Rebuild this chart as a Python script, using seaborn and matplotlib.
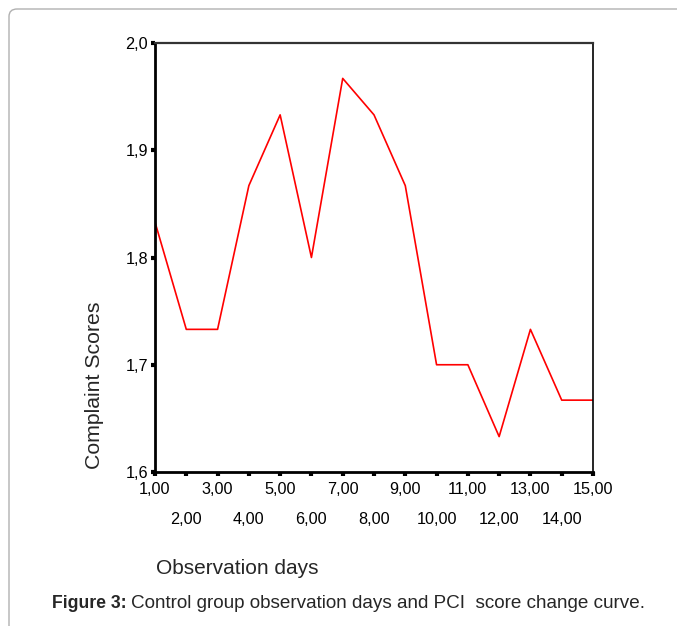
import matplotlib
matplotlib.use('Agg')
import matplotlib.pyplot as plt
import seaborn as sns
import pandas as pd
from matplotlib.patches import FancyBboxPatch

days = [1, 2, 3, 4, 5, 6, 7, 8, 9, 10, 11, 12, 13, 14, 15]
scores = [1.833, 1.733, 1.733, 1.867, 1.933, 1.800, 1.967, 1.933,
          1.867, 1.700, 1.700, 1.633, 1.733, 1.667, 1.667]
y_ticks = [1.6, 1.7, 1.8, 1.9, 2.0]
y_labels = ['1,6', '1,7', '1,8', '1,9', '2,0']
odd_days = days[0::2]
even_days = days[1::2]

df = pd.DataFrame({'day': days, 'score': scores})

sns.set_style('white')
plt.rcParams['font.family'] = ['Liberation Sans', 'DejaVu Sans']

W, H = 677, 626
fig = plt.figure(figsize=(W / 100, H / 100), dpi=100)

# light page frame with rounded corner
frame = FancyBboxPatch((9 / W, -20 / H), 700 / W, 637 / H,
                       boxstyle='round,pad=0,rounding_size=0.012',
                       transform=fig.transFigure, fill=False,
                       edgecolor='#b0b0b0', linewidth=1.0)
fig.patches.append(frame)

ax = fig.add_axes([155 / W, 1 - 472 / H, 438 / W, 429 / H])
sns.lineplot(x='day', y='score', data=df, ax=ax, color='red', linewidth=1.2)

ax.set_xlim(1, 15)
ax.set_ylim(1.6, 2.0)
ax.set_yticks(y_ticks)
ax.set_yticklabels(y_labels)
# odd days on the first row, even days on a second row below
ax.set_xticks(odd_days)
ax.set_xticklabels(['%d,00' % d for d in odd_days])
ax.set_xticks(even_days, minor=True)
ax.set_xticklabels(['%d,00' % d for d in even_days], minor=True)

ax.tick_params(axis='both', which='both', direction='out', length=3, width=3,
               colors='black', labelsize=11.7, bottom=True, left=True)
ax.tick_params(axis='x', which='major', pad=4)
ax.tick_params(axis='x', which='minor', pad=26)
ax.tick_params(axis='y', pad=2)

for side in ['left', 'bottom']:
    ax.spines[side].set_linewidth(2.0)
    ax.spines[side].set_color('black')
ax.spines['top'].set_linewidth(1.6)
ax.spines['top'].set_color('#333333')
ax.spines['right'].set_linewidth(1.2)
ax.spines['right'].set_color('black')

ax.set_xlabel('')
ax.set_ylabel('')
fig.text(95 / W, 1 - 385 / H, 'Complaint Scores', rotation=90, fontsize=15.3,
         ha='center', va='center')
fig.text(237 / W, 1 - 568 / H, 'Observation days', fontsize=15,
         ha='center', va='center')
fig.text(52 / W, 1 - 603 / H, 'Figure 3:', fontsize=12.7, fontweight='bold',
         ha='left', va='center')
fig.text(131 / W, 1 - 603 / H, 'Control group observation days and PCI  score change curve.',
         fontsize=13.6, ha='left', va='center')

fig.savefig('out.png', dpi=100)
